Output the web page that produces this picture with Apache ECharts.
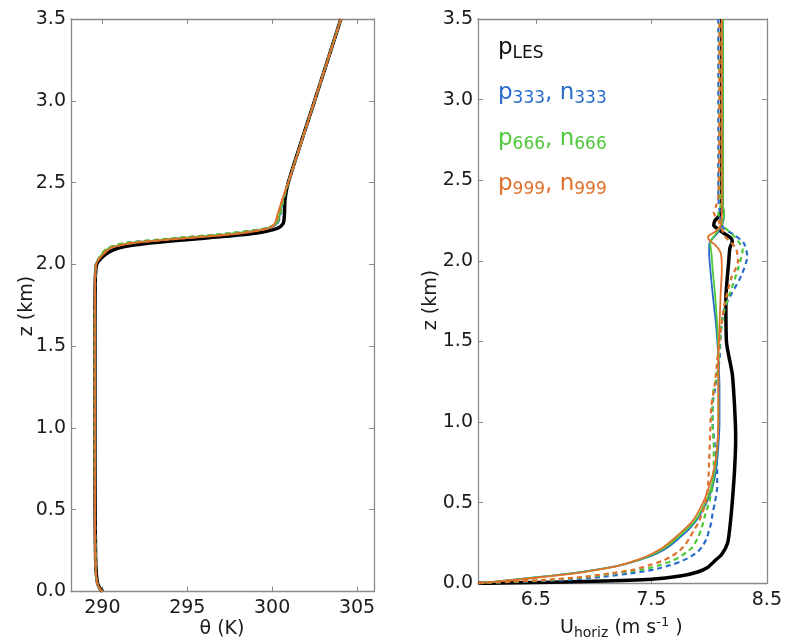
<!DOCTYPE html>
<html>
<head>
<meta charset="utf-8">
<script src="https://cdn.jsdelivr.net/npm/echarts@6/dist/echarts.min.js"></script>
<style>
  html, body { margin: 0; padding: 0; background: #ffffff; }
  #chart { width: 785px; height: 643px; }
</style>
</head>
<body>
<div id="chart"></div>
<script>
// ---- Potential temperature profiles, theta (K) vs height z (km) ----
const zTheta = [0, 0.02, 0.05, 0.1, 0.2, 0.5, 1.0, 1.5, 1.9, 2.0, 2.04, 2.07, 2.1, 2.13, 2.16, 2.19, 2.22, 2.25, 2.3, 2.4, 2.5, 3.0, 3.5];
const thetaLES  = [290.02, 289.85, 289.72, 289.65, 289.6, 289.57, 289.56, 289.56, 289.58, 289.66, 289.95, 290.3, 290.95, 292.8, 296.0, 299.0, 300.3, 300.65, 300.72, 300.76, 300.95, 302.5, 304.05];
const thetaP333 = [290.0, 289.82, 289.7, 289.63, 289.59, 289.56, 289.55, 289.55, 289.57, 289.62, 289.83, 290.08, 290.42, 291.6, 294.7, 297.9, 299.75, 300.3, 300.45, 300.66, 300.95, 302.5, 304.05];
const thetaN333 = [290.0, 289.82, 289.7, 289.63, 289.59, 289.56, 289.55, 289.55, 289.57, 289.61, 289.81, 290.02, 290.35, 291.4, 294.4, 297.6, 299.65, 300.3, 300.48, 300.68, 300.95, 302.5, 304.05];
const thetaP666 = [290.0, 289.82, 289.7, 289.63, 289.59, 289.56, 289.55, 289.55, 289.57, 289.62, 289.82, 290.05, 290.4, 291.55, 294.6, 297.8, 299.7, 300.25, 300.42, 300.65, 300.95, 302.5, 304.05];
const thetaN666 = [290.0, 289.82, 289.7, 289.63, 289.59, 289.56, 289.55, 289.55, 289.57, 289.61, 289.8, 290.0, 290.3, 291.3, 294.2, 297.4, 299.6, 300.25, 300.45, 300.67, 300.95, 302.5, 304.05];
const thetaP999 = [290.0, 289.82, 289.7, 289.63, 289.59, 289.56, 289.55, 289.55, 289.57, 289.64, 289.86, 290.15, 290.5, 291.8, 295.0, 298.2, 299.8, 300.15, 300.3, 300.6, 300.95, 302.5, 304.05];
const thetaN999 = [290.0, 289.82, 289.7, 289.63, 289.59, 289.56, 289.55, 289.55, 289.57, 289.63, 289.84, 290.1, 290.45, 291.7, 294.8, 298.0, 299.75, 300.2, 300.35, 300.62, 300.95, 302.5, 304.05];

// ---- Horizontal wind speed profiles, U (m/s) vs height z (km) ----
const zWindLES = [0, 0.002, 0.005, 0.012, 0.025, 0.045, 0.07, 0.1, 0.14, 0.18, 0.25, 0.35, 0.5, 0.7, 0.9, 1.1, 1.3, 1.5, 1.76, 2.0, 2.08, 2.12, 2.14, 2.17, 2.195, 2.22, 2.25, 2.28, 2.33, 2.5, 3.0, 3.5];
const uLES       = [6.0, 6.2, 6.5, 7.0, 7.5, 7.75, 7.9, 7.99, 8.05, 8.11, 8.16, 8.18, 8.2, 8.22, 8.23, 8.22, 8.2, 8.15, 8.145, 8.17, 8.18, 8.2, 8.19, 8.13, 8.08, 8.04, 8.05, 8.09, 8.11, 8.11, 8.11, 8.11];

const zWindP999 = [0, 0.005, 0.01, 0.025, 0.041, 0.06, 0.083, 0.11, 0.145, 0.185, 0.227, 0.28, 0.331, 0.38, 0.435, 0.49, 0.538, 0.6, 0.7, 0.85, 1.0, 1.2, 1.4, 1.6, 1.8, 1.95, 2.05, 2.1, 2.13, 2.15, 2.18, 2.22, 2.3, 2.5, 3.0, 3.5];
const uP999      = [6.0, 6.05, 6.16, 6.38, 6.59, 6.82, 7.03, 7.22, 7.38, 7.51, 7.61, 7.7, 7.78, 7.85, 7.9, 7.94, 7.97, 8.0, 8.04, 8.07, 8.08, 8.08, 8.08, 8.09, 8.1, 8.11, 8.1, 8.05, 8.0, 7.99, 8.05, 8.1, 8.11, 8.11, 8.11, 8.11];

const zWindP = [0, 0.005, 0.01, 0.025, 0.041, 0.06, 0.083, 0.11, 0.145, 0.185, 0.227, 0.28, 0.331, 0.38, 0.435, 0.49, 0.538, 0.6, 0.7, 0.85, 1.0, 1.2, 1.4, 1.6, 1.8, 1.95, 2.05, 2.1, 2.13, 2.17, 2.22, 2.28, 2.35, 2.5, 3.0, 3.5];
const uP666  = [6.0, 6.05, 6.15, 6.36, 6.56, 6.8, 7.02, 7.22, 7.39, 7.53, 7.63, 7.72, 7.8, 7.87, 7.92, 7.96, 7.99, 8.02, 8.05, 8.07, 8.08, 8.08, 8.08, 8.07, 8.05, 8.03, 8.02, 8.01, 8.02, 8.06, 8.1, 8.13, 8.12, 8.12, 8.12, 8.12];
const uP333  = [6.0, 6.05, 6.15, 6.35, 6.55, 6.79, 7.01, 7.22, 7.4, 7.55, 7.65, 7.74, 7.82, 7.88, 7.93, 7.97, 8.0, 8.03, 8.06, 8.08, 8.09, 8.09, 8.08, 8.06, 8.03, 8.01, 8.0, 8.0, 8.02, 8.07, 8.11, 8.13, 8.12, 8.12, 8.12, 8.12];

const zWindN333 = [0, 0.005, 0.01, 0.02, 0.04, 0.062, 0.085, 0.114, 0.14, 0.165, 0.195, 0.227, 0.28, 0.331, 0.38, 0.435, 0.5, 0.6, 0.7, 0.85, 1.0, 1.1, 1.2, 1.39, 1.55, 1.7, 1.79, 1.91, 2.03, 2.11, 2.16, 2.2, 2.25, 2.32, 2.4, 3.0, 3.5];
const uN333      = [6.0, 6.15, 6.35, 6.74, 7.08, 7.32, 7.52, 7.67, 7.77, 7.84, 7.9, 7.94, 7.98, 8.0, 8.02, 8.03, 8.05, 8.07, 8.07, 8.05, 8.03, 8.03, 8.05, 8.09, 8.1, 8.13, 8.19, 8.28, 8.33, 8.3, 8.22, 8.13, 8.1, 8.09, 8.08, 8.08, 8.08];

const zWindN666 = [0, 0.005, 0.01, 0.02, 0.04, 0.062, 0.085, 0.114, 0.14, 0.165, 0.195, 0.227, 0.28, 0.331, 0.38, 0.435, 0.5, 0.6, 0.7, 0.85, 1.0, 1.15, 1.3, 1.45, 1.55, 1.66, 1.76, 1.86, 1.95, 2.07, 2.15, 2.22, 2.3, 2.35, 2.45, 3.0, 3.5];
const uN666      = [6.0, 6.12, 6.3, 6.6, 6.95, 7.18, 7.42, 7.58, 7.68, 7.75, 7.81, 7.86, 7.9, 7.93, 7.95, 7.97, 8.0, 8.03, 8.04, 8.04, 8.03, 8.03, 8.07, 8.09, 8.1, 8.12, 8.16, 8.21, 8.25, 8.29, 8.22, 8.12, 8.08, 8.1, 8.09, 8.09, 8.09];

const zWindN999 = [0, 0.005, 0.01, 0.02, 0.04, 0.062, 0.085, 0.114, 0.14, 0.165, 0.195, 0.227, 0.28, 0.331, 0.38, 0.435, 0.5, 0.6, 0.75, 0.95, 1.1, 1.24, 1.38, 1.51, 1.62, 1.72, 1.81, 1.89, 2.0, 2.08, 2.15, 2.25, 2.3, 2.34, 2.4, 3.0, 3.5];
const uN999      = [6.0, 6.1, 6.27, 6.55, 6.92, 7.15, 7.35, 7.49, 7.6, 7.67, 7.73, 7.78, 7.83, 7.87, 7.91, 7.94, 7.97, 7.99, 8.0, 8.01, 8.02, 8.05, 8.07, 8.09, 8.11, 8.13, 8.16, 8.19, 8.25, 8.23, 8.14, 8.08, 8.04, 8.06, 8.08, 8.09, 8.09];

// ---- Tick positions ----
const thetaTicks = [290, 295, 300, 305];
const windTicks = [6.5, 7.5, 8.5];
const heightMin = 0, heightMax = 3.5, heightStep = 0.5;

const FONT = 'DejaVu Sans';
const SPINE = '#8a8a8a';
const C_BLUE = '#2a6ccc', C_GREEN = '#4fc83a', C_ORANGE = '#e0712c';

const pairs = (xs, zs) => xs.map((x, i) => [x, zs[i]]);

function lineSeries(grid, xs, zs, color, width, dashed) {
  return {
    type: 'line',
    xAxisIndex: grid * 2,
    yAxisIndex: grid * 2,
    data: pairs(xs, zs),
    showSymbol: false,
    smooth: 0.25,
    animation: false,
    clip: true,
    lineStyle: { color: color, width: width, type: dashed ? [5, 4] : 'solid', cap: 'butt', join: 'round' }
  };
}

function xAxes(grid, min, max, ticks) {
  const base = {
    gridIndex: grid, type: 'value', min: min, max: max,
    splitLine: { show: false },
    axisLine: { show: true, onZero: false, lineStyle: { color: SPINE, width: 1.3 } },
    axisTick: { show: true, inside: true, length: 5, customValues: ticks, lineStyle: { color: SPINE, width: 1 } }
  };
  return [
    Object.assign({}, base, {
      position: 'bottom',
      axisLabel: { show: true, customValues: ticks, margin: 7, color: '#1a1a1a', fontFamily: FONT, fontSize: 19 }
    }),
    Object.assign({}, base, { position: 'top', axisLabel: { show: false } })
  ];
}

function yAxes(grid) {
  const base = {
    gridIndex: grid, type: 'value', min: heightMin, max: heightMax, interval: heightStep,
    splitLine: { show: false },
    axisLine: { show: true, onZero: false, lineStyle: { color: SPINE, width: 1.3 } },
    axisTick: { show: true, inside: true, length: 5, lineStyle: { color: SPINE, width: 1 } }
  };
  return [
    Object.assign({}, base, {
      position: 'left',
      axisLabel: { show: true, margin: 5, color: '#1a1a1a', fontFamily: FONT, fontSize: 19,
                   formatter: v => v.toFixed(1) }
    }),
    Object.assign({}, base, { position: 'right', axisLabel: { show: false } })
  ];
}

const legendRich = (color) => ({
  m: { fontFamily: FONT, fontSize: 23, color: color, lineHeight: 28, verticalAlign: 'middle' },
  s: { fontFamily: FONT, fontSize: 17, color: color, lineHeight: 17, verticalAlign: 'bottom' }
});

function legendText(y, text, color) {
  return {
    type: 'text', left: 498, top: y - 14, z: 100,
    style: { text: text, rich: legendRich(color), fill: color }
  };
}

const chart = echarts.init(document.getElementById('chart'), null, { renderer: 'canvas' });

chart.setOption({
  backgroundColor: '#ffffff',
  animation: false,
  grid: [
    { left: 71, top: 19, width: 303, height: 572.5, containLabel: false },
    { left: 478, top: 19, width: 289, height: 564.3, containLabel: false }
  ],
  xAxis: [].concat(xAxes(0, 288.15, 306, thetaTicks), xAxes(1, 6.0, 8.5, windTicks)),
  yAxis: [].concat(yAxes(0), yAxes(1)),
  series: [
    lineSeries(0, thetaLES, zTheta, '#000000', 3.5, false),
    lineSeries(0, thetaP333, zTheta, C_BLUE, 1.8, false),
    lineSeries(0, thetaN333, zTheta, C_BLUE, 2.2, true),
    lineSeries(0, thetaP666, zTheta, C_GREEN, 1.8, false),
    lineSeries(0, thetaN666, zTheta, C_GREEN, 2.2, true),
    lineSeries(0, thetaP999, zTheta, C_ORANGE, 1.8, false),
    lineSeries(0, thetaN999, zTheta, C_ORANGE, 2.2, true),

    lineSeries(1, uLES, zWindLES, '#000000', 3.5, false),
    lineSeries(1, uP333, zWindP, C_BLUE, 1.8, false),
    lineSeries(1, uN333, zWindN333, C_BLUE, 2.2, true),
    lineSeries(1, uP666, zWindP, C_GREEN, 1.8, false),
    lineSeries(1, uN666, zWindN666, C_GREEN, 2.2, true),
    lineSeries(1, uP999, zWindP999, C_ORANGE, 1.8, false),
    lineSeries(1, uN999, zWindN999, C_ORANGE, 2.2, true)
  ],
  graphic: [
    { type: 'text', x: 27, y: 306, rotation: Math.PI / 2,
      style: { text: 'z (km)', fontFamily: FONT, fontSize: 19, fill: '#1a1a1a', align: 'center', verticalAlign: 'middle' } },
    { type: 'text', x: 431, y: 300, rotation: Math.PI / 2,
      style: { text: 'z (km)', fontFamily: FONT, fontSize: 19, fill: '#1a1a1a', align: 'center', verticalAlign: 'middle' } },
    { type: 'text', x: 222, y: 629,
      style: { text: 'θ (K)', fontFamily: FONT, fontSize: 19, fill: '#1a1a1a', align: 'center', verticalAlign: 'middle' } },
    { type: 'text', left: 560, top: 616,
      style: {
        text: '{m|U}{s|horiz}{m| (m s}{p|-1}{m| )}',
        rich: {
          m: { fontFamily: FONT, fontSize: 19, fill: '#1a1a1a', lineHeight: 24, verticalAlign: 'middle' },
          s: { fontFamily: FONT, fontSize: 14, fill: '#1a1a1a', lineHeight: 14, verticalAlign: 'bottom' },
          p: { fontFamily: FONT, fontSize: 13, fill: '#1a1a1a', lineHeight: 13, verticalAlign: 'top' }
        }
      } },
    legendText(51, '{m|p}{s|LES}', '#111111'),
    legendText(96, '{m|p}{s|333}{m|, n}{s|333}', C_BLUE),
    legendText(142, '{m|p}{s|666}{m|, n}{s|666}', C_GREEN),
    legendText(187, '{m|p}{s|999}{m|, n}{s|999}', C_ORANGE)
  ]
});
</script>
</body>
</html>
